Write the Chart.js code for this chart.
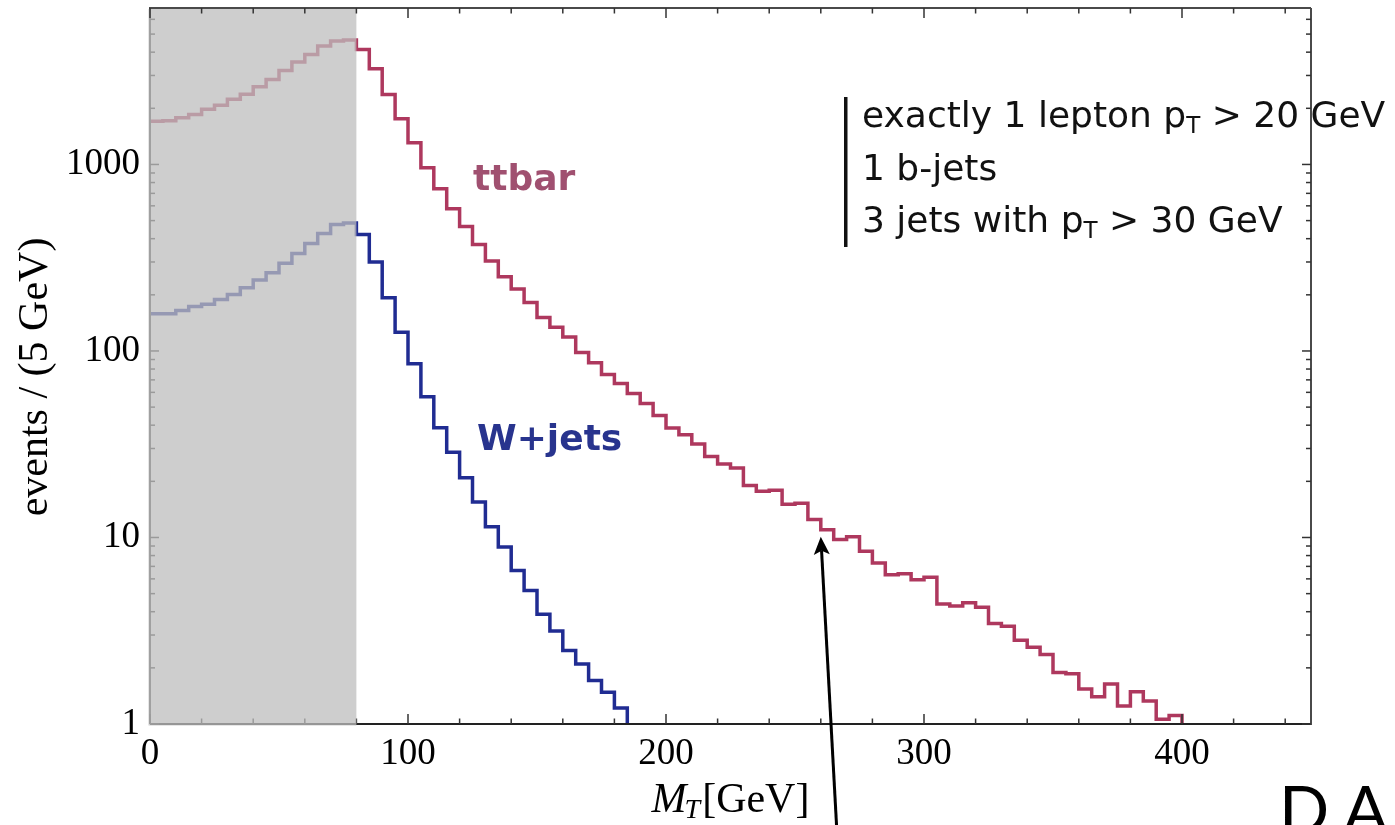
<!DOCTYPE html>
<html><head><meta charset="utf-8">
<script src="https://cdn.jsdelivr.net/npm/chart.js@4.4.1/dist/chart.umd.min.js"></script>
<style>html,body{margin:0;padding:0;background:#fff;overflow:hidden}</style>
</head><body>
<canvas id="c" width="1395" height="825"></canvas>
<script>
// ---- data ----
const BIN_WIDTH = 5;                 // GeV per bin
const TTBAR_START = 0;
const ttbarValues = [1707,1717,1781,1854,1974,2077,2235,2376,2610,2857,3193,3538,3888,4313,4585,4642,
  4139,3259,2373,1759,1308,960,741,579,465,372,304,250,215,182,151,134,119,98.2,86.5,74.8,67,59.2,52.3,45.1,
  38.6,35.6,31.7,27.2,24.8,23.6,19.0,17.7,17.9,15.05,15.25,12.47,11.0,9.75,10.1,8.44,7.30,6.31,6.39,5.93,
  6.13,4.40,4.29,4.47,4.22,3.46,3.34,2.81,2.58,2.36,1.89,1.86,1.54,1.40,1.64,1.25,1.49,1.33,1.06,1.11];
const WJETS_START = 0;
const wjetsValues = [158.5,158.5,165,173,178,188.5,201,218.5,240,263,295,333,377,427,477,486,
  421,300,193,126,85.5,56.8,38.8,28.6,20.9,15.5,11.4,8.9,6.65,5.19,3.88,3.15,2.48,2.10,1.71,1.48,1.22];
const FLOOR_VALUE = 0.1;             // histogram falls to zero after last bin
const X_TICKS = [0,100,200,300,400];
const Y_TICKS = [1,10,100,1000];
const X_MIN = 0, X_MAX = 450, Y_MIN = 1, Y_MAX = 6900;
const CUT_MT = 80;                   // shaded region 0..80 GeV
const ARROW_TIP = {x: 260, y: 10.1};
const SERIES_NAMES = ['ttbar', 'W+jets'];
const CUT_LINES = [
  [['exactly 1 lepton p'],['T','sub'],[' > 20 GeV']],
  [['1 b-jets']],
  [['3 jets with p'],['T','sub'],[' > 30 GeV']]
];

function histPoints(start, vals){
  const pts = vals.map((v,i)=>({x:start+i*BIN_WIDTH, y:v}));
  const end = start+vals.length*BIN_WIDTH;
  pts.push({x:end, y:vals[vals.length-1]});
  pts.push({x:end, y:FLOOR_VALUE});
  return pts;
}

const TT_COLOR = 'rgb(174,56,94)';
const W_COLOR = 'rgb(32,44,146)';
const FRAME = '#4a4a4a';

const decor = {
  id:'decor',
  afterDatasetsDraw(chart){
    const {ctx, chartArea:a, scales:{x:xs, y:ys}} = chart;
    const X = v=>xs.getPixelForValue(v), Y = v=>ys.getPixelForValue(v);
    const seg=(x1,y1,x2,y2)=>{ctx.beginPath();ctx.moveTo(x1,y1);ctx.lineTo(x2,y2);ctx.stroke();};
    const xTicks=[]; for(let v=X_MIN; v<=X_MAX; v+=20) xTicks.push(v);
    const yTicks=[]; for(let d=1; d<=Y_MAX; d*=10){ for(let m=1;m<=9;m++){ if(m*d<=Y_MAX) yTicks.push(m*d);} }
    ctx.save();
    ctx.strokeStyle = '#222'; ctx.lineWidth = 2;
    seg(a.left, a.bottom, a.right+1, a.bottom);
    ctx.strokeStyle = FRAME;
    seg(a.left, a.top, a.left, a.bottom);
    ctx.lineWidth = 1.5; ctx.strokeStyle = '#333';
    xTicks.forEach(v=>{const L = (v%100===0)?10:5.5; seg(X(v), a.bottom, X(v), a.bottom-L);});
    yTicks.forEach(v=>{const L = Y_TICKS.includes(v)?9:5; seg(a.left, Y(v), a.left+L, Y(v));});
    ctx.fillStyle = 'rgba(190,190,190,0.75)';
    const gx0 = X(0)-1.5, gx1 = X(CUT_MT);
    ctx.fillRect(gx0, a.top+1, gx1-gx0, a.bottom+1.5-(a.top+1));
    ctx.strokeStyle = FRAME; ctx.lineWidth = 2;
    seg(a.left-1, a.top, a.right, a.top);
    seg(a.right, a.top, a.right, a.bottom+1);
    ctx.lineWidth = 1.5; ctx.strokeStyle = '#333';
    xTicks.forEach(v=>{const L = (v%100===0)?10:5.5; seg(X(v), a.top, X(v), a.top+L);});
    yTicks.forEach(v=>{const L = Y_TICKS.includes(v)?9:5; seg(a.right, Y(v), a.right-L, Y(v));});
    ctx.restore();
  },
  afterDraw(chart){
    const {ctx, chartArea:a, scales:{x:xs, y:ys}} = chart;
    const X = v=>xs.getPixelForValue(v), Y = v=>ys.getPixelForValue(v);
    ctx.save();
    ctx.font = 'bold 36px "DejaVu Sans"'; ctx.textAlign='left'; ctx.textBaseline='alphabetic';
    ctx.fillStyle = 'rgb(160,80,112)';
    ctx.fillText(SERIES_NAMES[0], 473, 190);
    ctx.fillStyle = 'rgb(40,52,142)';
    ctx.fillText(SERIES_NAMES[1], 477, 450);
    ctx.fillStyle = '#111'; ctx.fillRect(844, 97, 3.5, 150);
    const baselines = [127, 180, 232];
    CUT_LINES.forEach((parts, i)=>{
      let x = 862;
      parts.forEach(p=>{
        if(p[1]==='sub'){ ctx.font = '23px "DejaVu Sans"'; ctx.fillText(p[0], x, baselines[i]+6); x += ctx.measureText(p[0]).width; }
        else { ctx.font = '36px "DejaVu Sans"'; ctx.fillText(p[0], x, baselines[i]); x += ctx.measureText(p[0]).width; }
      });
    });
    ctx.save();
    ctx.translate(47, 377); ctx.rotate(-Math.PI/2);
    ctx.font = '42px "Liberation Serif"'; ctx.textAlign='center'; ctx.textBaseline='alphabetic';
    ctx.fillStyle='#000';
    ctx.fillText('events / (5 GeV)', 0, 0);
    ctx.restore();
    ctx.fillStyle='#000'; ctx.textAlign='left';
    const fM = 'italic 42px "Liberation Serif"', fT = 'italic 28px "Liberation Serif"', fG = '42px "Liberation Serif"';
    ctx.font=fM; const wM = ctx.measureText('M').width;
    ctx.font=fT; const wT = ctx.measureText('T').width;
    ctx.font=fG; const wG = ctx.measureText('[GeV]').width;
    let tx = (a.left+a.right)/2 - (wM+wT+wG)/2; const tb = 812;
    ctx.font=fM; ctx.fillText('M', tx, tb); tx+=wM;
    ctx.font=fT; ctx.fillText('T', tx-2, tb+6); tx+=wT;
    ctx.font=fG; ctx.fillText('[GeV]', tx, tb);
    const tipX = X(ARROW_TIP.x), tipY = Y(ARROW_TIP.y);
    const tailX = tipX+16, tailY = 830;
    const ang = Math.atan2(tipY-tailY, tipX-tailX);
    const hl = 18, hw = 8;
    const bx = tipX - hl*Math.cos(ang), by = tipY - hl*Math.sin(ang);
    ctx.strokeStyle='#000'; ctx.lineWidth=3;
    ctx.beginPath(); ctx.moveTo(tailX, tailY); ctx.lineTo(bx+4*Math.cos(ang), by+4*Math.sin(ang)); ctx.stroke();
    ctx.fillStyle='#000'; ctx.beginPath();
    ctx.moveTo(tipX, tipY);
    ctx.lineTo(bx + hw*Math.sin(ang), by - hw*Math.cos(ang));
    ctx.lineTo(bx + 4*Math.cos(ang), by + 4*Math.sin(ang));
    ctx.lineTo(bx - hw*Math.sin(ang), by + hw*Math.cos(ang));
    ctx.closePath(); ctx.fill();
    ctx.font = '400 66px Lato'; ctx.fillStyle='#000';
    ctx.fillText('D.A', 1279, 833);
    ctx.restore();
  }
};

new Chart(document.getElementById('c'), {
  type:'line',
  data:{datasets:[
    {label:SERIES_NAMES[0], data:histPoints(TTBAR_START, ttbarValues), borderColor:TT_COLOR, borderWidth:3.5, stepped:true, pointRadius:0, fill:false},
    {label:SERIES_NAMES[1], data:histPoints(WJETS_START, wjetsValues), borderColor:W_COLOR, borderWidth:3.5, stepped:true, pointRadius:0, fill:false}
  ]},
  options:{
    responsive:false, animation:false, devicePixelRatio:1,
    layout:{padding:{top:8, right:84, left:0, bottom:0}},
    plugins:{legend:{display:false}, tooltip:{enabled:false}},
    scales:{
      x:{type:'linear', min:X_MIN, max:X_MAX,
        grid:{display:false, drawTicks:false}, border:{display:false},
        ticks:{font:{family:'Liberation Serif', size:37}, color:'#000', padding:8, maxRotation:0, autoSkip:false, callback:v=>String(v)},
        afterBuildTicks:s=>{s.ticks = X_TICKS.map(v=>({value:v}));},
        afterFit:s=>{s.height = 101; s.paddingLeft = 0; s.paddingRight = 0;}
      },
      y:{type:'logarithmic', min:Y_MIN, max:Y_MAX,
        grid:{display:false, drawTicks:false}, border:{display:false},
        ticks:{font:{family:'Liberation Serif', size:37}, color:'#000', padding:10, autoSkip:false, callback:v=>String(v)},
        afterBuildTicks:s=>{s.ticks = Y_TICKS.map(v=>({value:v}));},
        afterFit:s=>{s.width = 150; s.paddingTop = 0; s.paddingBottom = 0;}
      }
    }
  },
  plugins:[decor]
});
</script>
</body></html>
